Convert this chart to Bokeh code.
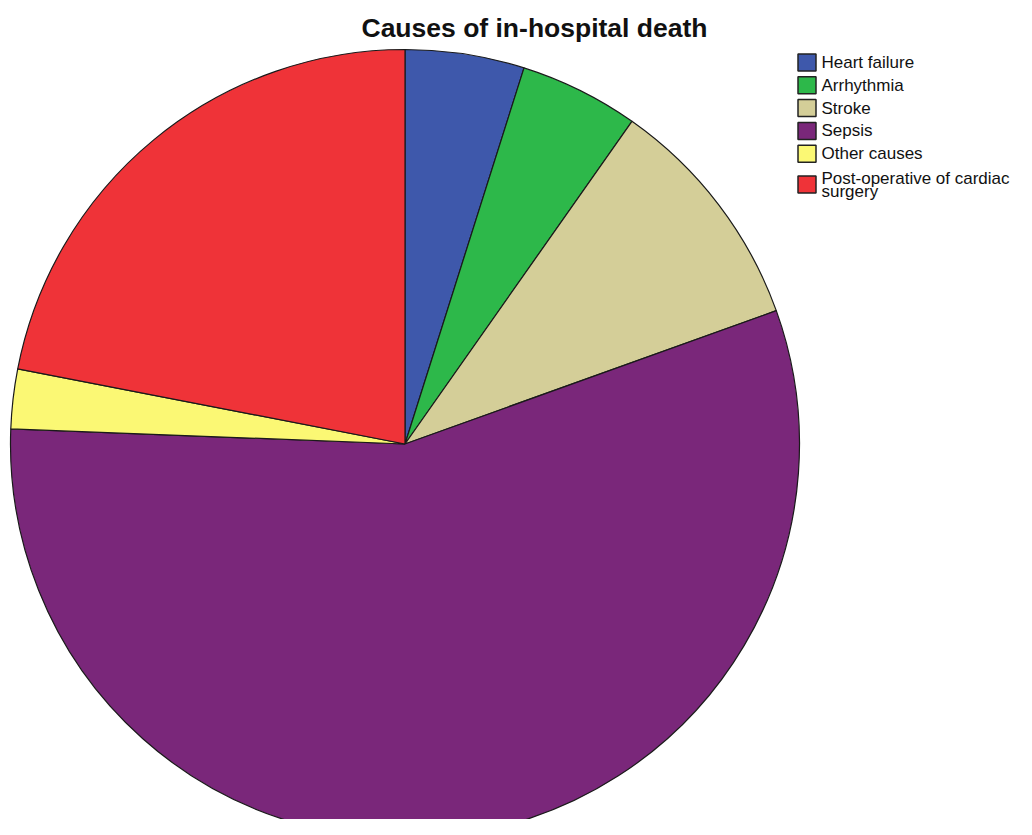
import math
from bokeh.plotting import figure
from bokeh.models import Range1d, ColumnDataSource
from bokeh.core.properties import value
from bokeh.embed import file_html
from bokeh.resources import INLINE

# ---- data ----
causes = ["Heart failure", "Arrhythmia", "Stroke", "Sepsis", "Other causes",
          "Post-operative of cardiac surgery"]
counts = [2, 2, 4, 23, 1, 9]
colors = ["#3e58ab", "#2db84a", "#d4ce98", "#7a277a", "#fbf874", "#ef3338"]
title = "Causes of in-hospital death"

W, H = 1016, 819
p = figure(width=W, height=H, output_backend="svg", toolbar_location=None,
           x_range=Range1d(0, W), y_range=Range1d(-H, 0),
           min_border=0, outline_line_color=None)
p.axis.visible = False
p.grid.visible = False
p.background_fill_color = "white"

# pie, clockwise from 12 o'clock
total = sum(counts)
cx, cy, r = 404.5, -443.5, 394.5
starts, ends = [], []
cum = 0.0
for c in counts:
    a0 = math.pi / 2 - 2 * math.pi * (cum + c) / total
    a1 = math.pi / 2 - 2 * math.pi * cum / total
    starts.append(a0)
    ends.append(a1)
    cum += c
src = ColumnDataSource(dict(start=starts, end=ends, color=colors, label=causes))
p.wedge(x=cx, y=cy, radius=r, start_angle="start", end_angle="end",
        fill_color="color", line_color="#1a1a1a", line_width=1.2, source=src)

# title
p.text(x=[534], y=[-27.5], text=[title], text_font=value("Liberation Sans"),
       text_font_style="bold", text_font_size="26.5px", text_align="center",
       text_baseline="middle", text_color="#111111")

# legend
lx, ly0, dy = 797, -62, 22.8
sx, sy = [], []
tx, ty, tt = [], [], []
for i, lab in enumerate(causes):
    y = ly0 - i * dy
    if len(lab) > 26:
        words = lab.split(" ")
        line1 = " ".join(words[:-1])
        line2 = words[-1]
        sy.append(y - 8)
        tx.append(lx + 24); ty.append(y - 1.5); tt.append(line1)
        tx.append(lx + 24); ty.append(y - 15); tt.append(line2)
    else:
        sy.append(y)
        tx.append(lx + 24); ty.append(y); tt.append(lab)
    sx.append(lx + 9.5)
p.rect(x=sx, y=sy, width=18, height=17, fill_color=colors,
       line_color="#222222", line_width=1.5)
p.text(x=tx, y=ty, text=tt, text_font=value("Liberation Sans"),
       text_font_size="17px", text_baseline="middle", text_align="left",
       text_color="#111111")

open("out.html", "w").write(file_html(p, INLINE))
